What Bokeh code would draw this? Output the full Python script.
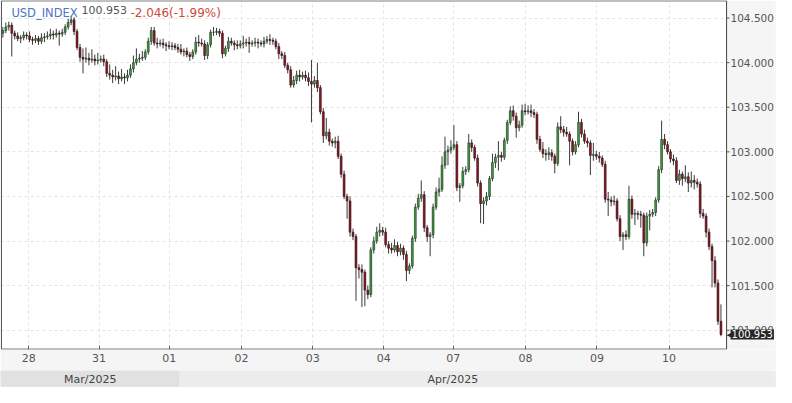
import numpy as np
from bokeh.plotting import figure
from bokeh.layouts import column
from bokeh.models import ColumnDataSource, FixedTicker, Range1d, Label, PrintfTickFormatter
from bokeh.core.properties import value
from bokeh.embed import file_html
from bokeh.resources import INLINE

# ---------------- data (hourly candles) ----------------
SYMBOL = "USD_INDEX"
LAST = 100.953
CHANGE = "-2.046(-1.99%)"
FIRST_OPEN = 104.33

CLOSE = [
    104.36, 104.40, 104.42, 104.33, 104.30, 104.27, 104.28, 104.31, 104.30, 104.26, 104.25, 104.27,
    104.24, 104.28, 104.29, 104.30, 104.32, 104.31, 104.33, 104.32, 104.34, 104.40, 104.45, 104.48,
    104.35, 104.17, 104.06, 104.04, 104.05, 104.03, 104.04, 104.02, 104.03, 104.04, 104.01, 103.88,
    103.86, 103.84, 103.85, 103.82, 103.84, 103.83, 103.86, 103.93, 104.00, 104.04, 104.05, 104.06,
    104.12, 104.24, 104.36, 104.22, 104.21, 104.22, 104.20, 104.19, 104.18, 104.19, 104.17, 104.15,
    104.12, 104.13, 104.09, 104.07, 104.12, 104.23, 104.22, 104.21, 104.08, 104.20, 104.34, 104.34,
    104.35, 104.33, 104.10, 104.16, 104.24, 104.22, 104.20, 104.19, 104.21, 104.22, 104.23, 104.21,
    104.22, 104.23, 104.22, 104.21, 104.24, 104.26, 104.25, 104.24, 104.18, 104.10, 104.08, 103.97,
    103.92, 103.75, 103.80, 103.86, 103.84, 103.86, 103.83, 103.79, 103.76, 103.80, 103.72, 103.45,
    103.18, 103.22, 103.12, 103.10, 103.12, 102.95, 102.75, 102.50, 102.45, 102.10, 102.05, 101.70,
    101.68, 101.65, 101.45, 101.40, 101.90, 102.00, 102.10, 102.12, 102.10, 101.96, 101.92, 101.90,
    101.95, 101.88, 101.92, 101.85, 101.67, 101.72, 102.03, 102.38, 102.48, 102.52, 102.15, 102.05,
    102.07, 102.38, 102.55, 102.58, 102.85, 103.00, 103.02, 103.05, 103.08, 102.60, 102.62, 102.78,
    102.80, 103.10, 103.05, 102.93, 102.65, 102.42, 102.45, 102.50, 102.70, 102.88, 102.94, 102.96,
    102.94, 103.13, 103.33, 103.46, 103.40, 103.27, 103.30, 103.46, 103.45, 103.46, 103.44, 103.42,
    103.14, 103.03, 102.98, 102.97, 102.99, 102.95, 102.87, 103.28, 103.25, 103.22, 103.20, 103.12,
    103.00, 103.08, 103.33, 103.20, 103.12, 103.10, 102.96, 102.97, 102.95, 102.93, 102.86, 102.47,
    102.46, 102.44, 102.45, 102.25, 102.05, 102.07, 102.05, 102.47, 102.30, 102.31, 102.30, 102.29,
    101.98, 102.28, 102.30, 102.32, 102.46, 102.80, 103.14, 103.08, 103.00, 102.92, 102.90, 102.68,
    102.75, 102.70, 102.72, 102.65, 102.68, 102.66, 102.64, 102.31, 102.28, 102.10, 101.94, 101.78,
    101.53, 101.10, 100.953,
]

UP_WICK = [
    .04, .05, .04, .03, .03, .04, .03, .04, .03, .05, .03, .04, .03, .05, .04, .05, .06, .04, .05, .03, .04, .03, .04, .04,
    .03, .03, .04, .10, .12, .06, .11, .05, .08, .04, .05, .03, .10, .06, .11, .05, .09, .04, .06, .05, .08, .12, .05, .07,
    .03, .04, .04, .04, .06, .04, .05, .03, .05, .04, .03, .04, .06, .03, .04, .03, .03, .06, .08, .05, .04, .03, .03, .06,
    .04, .03, .03, .03, .05, .04, .03, .05, .04, .08, .04, .06, .03, .05, .04, .03, .05, .04, .06, .03, .03, .04, .03, .04,
    .03, .04, .05, .05, .06, .04, .05, .06, .24, .05, .20, .03, .04, .16, .04, .03, .05, .06, .03, .04, .03, .05, .04, .03,
    .04, .06, .03, .05, .03, .05, .06, .08, .04, .05, .04, .06, .07, .04, .05, .03, .04, .03, .03, .04, .05, .16, .04, .03,
    .03, .04, .05, .13, .10, .17, .05, .08, .22, .04, .03, .05, .04, .10, .04, .03, .04, .03, .04, .05, .03, .10, .04, .16,
    .04, .03, .03, .05, .06, .04, .05, .07, .08, .06, .07, .04, .03, .04, .08, .05, .06, .04, .03, .05, .12, .04, .06, .03,
    .03, .04, .12, .04, .05, .04, .03, .13, .04, .05, .03, .04, .08, .04, .06, .03, .04, .03, .05, .15, .04, .05, .03, .04,
    .03, .04, .05, .04, .03, .04, .21, .06, .04, .03, .05, .04, .05, .03, .13, .05, .10, .06, .04, .03, .05, .03, .04, .03,
    .05, .04, .19,
]

DOWN_WICK = [
    .05, .03, .04, .26, .04, .03, .05, .03, .04, .03, .05, .03, .04, .03, .05, .03, .04, .05, .03, .13, .03, .03, .03, .03,
    .04, .03, .05, .16, .04, .06, .03, .05, .04, .03, .05, .04, .05, .07, .04, .06, .03, .07, .04, .03, .04, .03, .04, .03,
    .03, .03, .04, .03, .05, .03, .04, .06, .03, .04, .03, .04, .03, .05, .03, .05, .03, .03, .04, .03, .05, .04, .03, .04,
    .03, .04, .05, .03, .04, .03, .06, .04, .03, .05, .04, .10, .03, .04, .06, .03, .04, .03, .05, .04, .03, .06, .04, .03,
    .04, .03, .03, .04, .05, .03, .04, .05, .43, .04, .05, .03, .08, .04, .05, .04, .06, .03, .04, .03, .20, .05, .04, .37,
    .10, .39, .18, .05, .03, .04, .03, .05, .04, .03, .06, .04, .03, .05, .04, .06, .12, .04, .03, .04, .03, .04, .05, .06,
    .22, .04, .03, .05, .03, .04, .15, .04, .03, .04, .16, .03, .04, .03, .05, .03, .04, .22, .23, .05, .04, .03, .06, .15,
    .05, .03, .04, .03, .05, .11, .04, .03, .04, .03, .05, .04, .05, .03, .05, .07, .06, .05, .11, .03, .04, .05, .03, .27,
    .04, .03, .03, .04, .03, .05, .22, .06, .04, .05, .03, .04, .18, .05, .04, .03, .05, .15, .04, .03, .05, .12, .06, .14,
    .15, .04, .16, .03, .04, .03, .04, .05, .03, .04, .05, .03, .05, .08, .04, .10, .05, .08, .04, .05, .03, .06, .04, .30,
    .05, .04, .02,
]

DAY_TICKS = [8.7, 32.4, 56.1, 80.4, 104.4, 128.4, 151.8, 176.1, 200.2, 224.5]
DAY_LABELS = ["28", "31", "01", "02", "03", "04", "07", "08", "09", "10"]
PRICE_TICKS = [101.0, 101.5, 102.0, 102.5, 103.0, 103.5, 104.0, 104.5]
MONTHS = ["Mar/2025", "Apr/2025"]
MONTH_START = [-0.5, 59.4]

# chart box (in data units) and the wider frame that also holds the price scale
X_START, X_END = -0.5, 243.9
Y_START, Y_END = 100.788, 104.693
FRAME_X = (-0.8, 260.05)
FRAME_Y = (100.784, 104.697)
TICK_LEN = 1.0

# ---------------- derived OHLC ----------------
close = np.array(CLOSE, dtype=float)
open_ = np.concatenate([[FIRST_OPEN], close[:-1]])
high = np.maximum(open_, close) + np.array(UP_WICK)
low = np.minimum(open_, close) - np.array(DOWN_WICK)
idx = np.arange(len(close))
rise = close >= open_

src = ColumnDataSource(dict(x=idx, o=open_, c=close, h=high, l=low))
inc = ColumnDataSource(dict(x=idx[rise], top=close[rise], bottom=open_[rise]))
dec = ColumnDataSource(dict(x=idx[~rise], top=open_[~rise], bottom=close[~rise]))

FONT = "DejaVu Sans"
PANEL = "#f5f5f5"

p = figure(width=776, height=370, x_range=Range1d(*FRAME_X), y_range=Range1d(*FRAME_Y),
           y_axis_location="right", output_backend="svg", toolbar_location=None,
           min_border_left=0, min_border_top=0, min_border_right=1, min_border_bottom=21,
           background_fill_color="white", border_fill_color=PANEL)
p.outline_line_color = None

# price-scale strip on the right
p.quad(left=[X_END], right=[FRAME_X[1]], bottom=[FRAME_Y[0]], top=[FRAME_Y[1]],
       fill_color=PANEL, line_color=None)

p.segment(x0="x", y0="h", x1="x", y1="l", source=src, line_color="#3a3a3a", line_width=1)
p.vbar(x="x", width=0.62, top="top", bottom="bottom", source=inc,
       fill_color="#3f9f3f", line_color="#1c301c", line_width=0.6)
p.vbar(x="x", width=0.62, top="top", bottom="bottom", source=dec,
       fill_color="#8c1b2b", line_color="#2a0a0a", line_width=0.6)

# chart box and price ticks
p.quad(left=[X_START], right=[X_END], bottom=[Y_START], top=[Y_END],
       fill_color=None, line_color="#444444", line_width=1)
p.segment(x0=[X_END] * len(PRICE_TICKS), y0=PRICE_TICKS,
          x1=[X_END + TICK_LEN] * len(PRICE_TICKS), y1=PRICE_TICKS,
          line_color="#555555", line_width=1)

p.xaxis.ticker = FixedTicker(ticks=DAY_TICKS)
p.xaxis.major_label_overrides = {t: lab for t, lab in zip(DAY_TICKS, DAY_LABELS)}
p.yaxis.ticker = FixedTicker(ticks=PRICE_TICKS)
p.yaxis.formatter = PrintfTickFormatter(format="%.3f")

p.axis.major_tick_line_color = "#666666"
p.axis.minor_tick_line_color = None
p.axis.major_label_text_font = FONT
p.axis.major_label_text_color = "#555555"
p.xaxis.axis_line_color = None
p.xaxis.major_label_text_font_size = "11px"
p.yaxis.major_label_text_font_size = "10.5px"
p.xaxis.major_tick_in = 4
p.xaxis.major_tick_out = 0
p.xaxis.minor_tick_out = 0
p.xaxis.major_label_standoff = 4
p.yaxis.axis_line_color = None
p.yaxis.major_tick_line_color = None
p.yaxis.major_tick_in = 0
p.yaxis.major_tick_out = 0
p.yaxis.minor_tick_out = 0
p.yaxis.minor_tick_in = 0
p.yaxis.major_label_standoff = -44

p.grid.grid_line_color = "#e4e4e4"
p.grid.grid_line_dash = "3 3"

# title overlay
for txt, off, col, fs in [(SYMBOL, 10, "#4f74c2", "11.5px"), (f"{LAST:.3f}", 80, "#555555", "11px"),
                          (CHANGE, 129, "#d0483a", "12px")]:
    p.add_layout(Label(x=X_START, y=Y_END, x_offset=off, y_offset=-5, text=txt,
                       text_font=FONT, text_font_size=fs, text_color=col,
                       text_baseline="top", text_align="left"))

# last price badge
p.add_layout(Label(x=X_END, y=LAST, x_offset=0, text="\u25c0", text_color="#262626",
                   text_font=FONT, text_font_size="11px", text_baseline="middle", text_align="left"))
p.add_layout(Label(x=X_END, y=LAST, x_offset=4, text=f"{LAST:.3f}", text_color="white",
                   text_font=FONT, text_font_size="10px", text_baseline="middle", text_align="left",
                   background_fill_color="#262626", padding=1))

# month band
b = figure(width=776, height=17, x_range=p.x_range, y_range=Range1d(0, 1),
           output_backend="svg", toolbar_location=None,
           min_border_left=0, min_border_right=1, min_border_top=0, min_border_bottom=0,
           background_fill_color="#ececec", border_fill_color="#ececec")
b.outline_line_color = None
b.axis.visible = False
b.grid.visible = False
month_end = MONTH_START[1:] + [X_END]
b.quad(left=[FRAME_X[0]], right=[MONTH_START[1]], bottom=[0], top=[1],
       fill_color="#e1e1e1", line_color=None)
centers = [(s + e) / 2 for s, e in zip(MONTH_START, month_end)]
b.text(x=centers, y=[0.5, 0.5], text=MONTHS, text_align="center", text_baseline="middle",
       text_font=value(FONT), text_font_size="11px", text_color="#444444")

layout = column(p, b, spacing=0)
open("out.html", "w").write(file_html(layout, INLINE))
